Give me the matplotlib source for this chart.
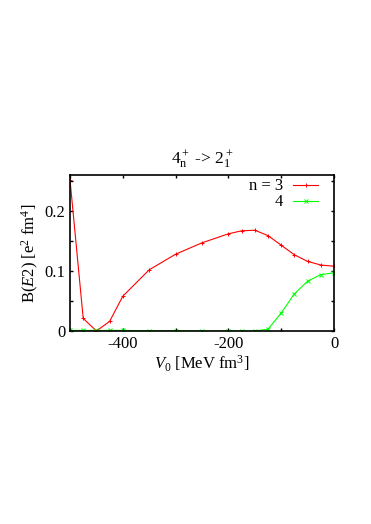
import matplotlib
matplotlib.use("Agg")
import matplotlib.pyplot as plt
from matplotlib.ticker import MultipleLocator

plt.rcParams['font.family'] = ['Liberation Serif', 'DejaVu Serif']
plt.rcParams['mathtext.fontset'] = 'custom'
plt.rcParams['mathtext.rm'] = 'Liberation Serif'
plt.rcParams['mathtext.it'] = 'Liberation Serif:italic'

# B(E2) vs V0
v0_n3 = [-500, -475, -450, -425, -400, -350, -300, -250, -200, -175, -150,
         -125, -100, -75, -50, -25, 0]
be2_n3 = [0.252, 0.021, 0.0, 0.016, 0.058, 0.102, 0.128, 0.147, 0.162, 0.167,
          0.168, 0.159, 0.143, 0.127, 0.116, 0.110, 0.108]

v0_n4 = [-500, -475, -450, -425, -400, -350, -300, -250, -200, -175, -150,
         -125, -100, -75, -50, -25, 0]
be2_n4 = [0.001, 0.001, 0.001, 0.001, 0.001, 0.0005, 0.0005, 0.0, 0.0, 0.0, 0.0,
          0.003, 0.030, 0.062, 0.083, 0.094, 0.097]

fig = plt.figure(figsize=(3.71, 5.24), dpi=100)
ax = fig.add_axes([0.1887, 0.3683, 0.7116, 0.2977])

ax.plot(v0_n3, be2_n3, color='#ff0000', lw=0.8, marker='+', ms=3, mew=0.7,
        label='n = 3')
ax.plot(v0_n4, be2_n4, color='#00ff00', lw=0.8, marker='x', ms=2.5, mew=0.7,
        label='4')

ax.set_xlim(-500, 0)
ax.set_ylim(0, 0.26)
ax.xaxis.set_minor_locator(MultipleLocator(100))
ax.yaxis.set_minor_locator(MultipleLocator(0.05))
ax.set_xticks([-400, -200, 0])
ax.set_xticklabels(['-400', '-200', '0'])
ax.set_yticks([0, 0.1, 0.2])
ax.set_yticklabels(['0', '0.1', '0.2'])
ax.tick_params(which='both', direction='in', top=True, right=True,
               labelsize=12, width=1, length=2.5)
for s in ax.spines.values():
    s.set_linewidth(1.2)

ax.set_xlabel(r'$\mathit{V}_0$ [MeV fm$^3$]', fontsize=12, labelpad=1)
ax.set_ylabel(r'B($\mathit{E}$2) [e$^2$ fm$^4$]', fontsize=12, labelpad=2)
ax.set_title(r'$4_\mathrm{n}^+$ -> $2_1^+$', fontsize=12.5, pad=8)

ax.legend(loc='upper right', bbox_to_anchor=(0.94, 0.978), frameon=False,
          markerfirst=False, fontsize=12, handlelength=1.5, borderaxespad=0.0,
          handletextpad=0.6, labelspacing=0.0, borderpad=0.0)

fig.savefig('out.png', dpi=100)
